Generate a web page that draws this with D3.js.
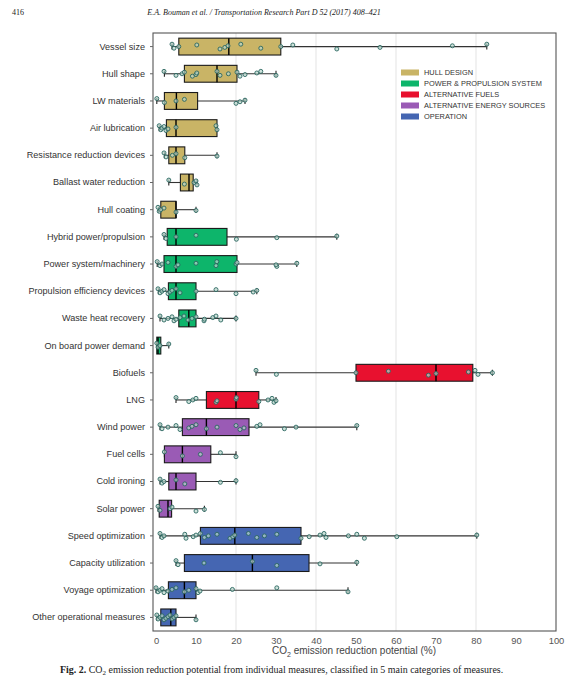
<!DOCTYPE html>
<html>
<head>
<meta charset="utf-8">
<script src="https://cdn.jsdelivr.net/npm/d3@7"></script>
<style>
  body { margin: 0; background: #fff; }
  svg text { font-family: "Liberation Sans", Arial, sans-serif; }
  .serif { font-family: "Liberation Serif", "Times New Roman", serif !important; }
</style>
</head>
<body>
<svg id="chart1"></svg>
<script>
let w = 585;
let h = 684;

// data
let measures = ["Vessel size", "Hull shape", "LW materials", "Air lubrication",
  "Resistance reduction devices", "Ballast water reduction", "Hull coating",
  "Hybrid power/propulsion", "Power system/machinery", "Propulsion efficiency devices",
  "Waste heat recovery", "On board power demand", "Biofuels", "LNG", "Wind power",
  "Fuel cells", "Cold ironing", "Solar power", "Speed optimization",
  "Capacity utilization", "Voyage optimization", "Other operational measures"];
let groupOf = ["HULL DESIGN", "HULL DESIGN", "HULL DESIGN", "HULL DESIGN", "HULL DESIGN", "HULL DESIGN", "HULL DESIGN",
  "POWER & PROPULSION SYSTEM", "POWER & PROPULSION SYSTEM", "POWER & PROPULSION SYSTEM", "POWER & PROPULSION SYSTEM", "POWER & PROPULSION SYSTEM",
  "ALTERNATIVE FUELS", "ALTERNATIVE FUELS",
  "ALTERNATIVE ENERGY SOURCES", "ALTERNATIVE ENERGY SOURCES", "ALTERNATIVE ENERGY SOURCES", "ALTERNATIVE ENERGY SOURCES",
  "OPERATION", "OPERATION", "OPERATION", "OPERATION"];
let groups = ["HULL DESIGN", "POWER & PROPULSION SYSTEM", "ALTERNATIVE FUELS", "ALTERNATIVE ENERGY SOURCES", "OPERATION"];
let groupColors = ["#c9b466", "#0db56b", "#e8112f", "#9a5bb5", "#4566b2"];

let whiskerLow  = [4, 2.1, 0.2, 0.8, 2.1, 3.2, 0.6, 2, 0.3, 0.6, 1, 0.2, 25, 5, 1, 2.1, 1, 0.5, 1, 5, 0, 0.2];
let q1          = [5.7, 7.1, 2.1, 2.6, 3.2, 6.1, 1.2, 2.8, 2, 3.1, 5.7, 0.2, 50, 12.6, 6.6, 2.1, 3.2, 0.8, 11.1, 7.1, 3.1, 1.2];
let medians     = [18.2, 15.25, 5.1, 5, 5, 8.25, 5, 5, 5, 5, 8.2, 0.5, 70, 20, 12.6, 6.6, 5, 3, 19.7, 24.1, 7.1, 3.7];
let q3          = [31.2, 20.25, 10.4, 15.25, 7.2, 9.3, 5, 17.75, 20.25, 10, 10, 1.2, 79.2, 25.7, 23.25, 13.7, 10, 3.9, 36.25, 38.25, 10, 5];
let whiskerHigh = [82.7, 30, 22.25, 15.25, 15.25, 10.25, 10, 45.2, 35.2, 25.2, 20, 3.2, 84.1, 30, 50.2, 20, 20, 12.1, 80.2, 50.2, 48, 10];

let points = [
  [4, 4.5, 5.7, 10.2, 16, 17.2, 18, 21.2, 26.2, 31.2, 34.2, 45.2, 56, 74.1, 82.7],
  [2, 5, 6.5, 7.1, 9.1, 10, 10.2, 15.25, 16, 18.1, 20.25, 21, 22.25, 25.2, 26.2, 30],
  [0.2, 2.1, 5, 7.1, 20, 21, 22.25],
  [0.8, 1.2, 1.5, 2, 2.5, 3, 5, 15, 15.25],
  [2, 2.5, 4.1, 5, 7.2, 15.25],
  [3.2, 7.1, 9.5, 10, 10.25],
  [0.5, 0.8, 1.2, 2, 5, 10],
  [2, 2.5, 5, 10, 20.1, 30.2, 45.2],
  [0.3, 1, 1.5, 3, 5, 5.5, 10, 15.2, 15, 20, 20.25, 30.2, 30, 35.2],
  [0.5, 1, 1.5, 2, 3, 3.5, 4, 5, 6, 10, 15, 20, 24.3, 25.2],
  [1, 2, 3, 4, 4.5, 5, 6, 7, 8, 9, 10, 12, 12.1, 14.2, 15, 16.2, 20],
  [0.2, 0.5, 1, 3.2],
  [25, 30.1, 50, 58.1, 68.1, 70, 78.1, 79.75, 80.5, 84.1],
  [5, 8.2, 9.2, 10, 15, 15.25, 20, 20.1, 25.7, 28, 29, 29.5, 30],
  [1, 1.5, 3, 5, 6, 8.2, 9, 10, 12.6, 15.25, 20, 21, 22, 25.2, 26, 32.1, 35, 50.2],
  [2.1, 6.6, 11.1, 16.1, 20],
  [1, 1.5, 2, 5, 7.2, 16.1, 20],
  [0.5, 1, 3.5, 4, 10, 12.1],
  [1, 1.5, 2, 7.2, 7.5, 9.3, 10, 11.1, 12.1, 13.1, 15.25, 18.5, 19.2, 19.7, 23.1, 25.2, 27.1, 30.2, 36.25, 38.3, 41, 42, 42.5, 48.1, 50.2, 52.1, 60.2, 80.2],
  [5, 5.5, 12, 24.1, 30.2, 41, 50.2],
  [0, 0.5, 1, 1.5, 2, 3, 4, 5, 7.1, 8.2, 10, 10.5, 11, 19.1, 30.2, 48],
  [0.2, 0.5, 1, 1.5, 2, 2.5, 3, 3.5, 4, 4.5, 5, 10]
];
let xTicks = [0, 10, 20, 30, 40, 50, 60, 70, 80, 90, 100];
let gridValues = [20, 40, 60, 80];

let svg = d3.select('#chart1').attr('width', w).attr('height', h);

let plotLeft = 153, plotRight = 556, plotTop = 33, plotBottom = 631;

let xScale = d3.scaleLinear().domain([-0.75, 100]).range([plotLeft, plotRight]);
let yScale = d3.scaleBand().domain(measures).range([plotTop, plotBottom]).padding(0);
let cScale = d3.scaleOrdinal().domain(groups).range(groupColors);

let boxH = yScale.bandwidth() * 0.62;
let capH = 6;

// header
svg.append('text').attr('class', 'serif').attr('x', 12).attr('y', 15)
  .attr('font-size', 8).attr('fill', '#222').text('416');
svg.append('text').attr('class', 'serif').attr('x', 264).attr('y', 15)
  .attr('text-anchor', 'middle').attr('font-size', 8).attr('font-style', 'italic').attr('fill', '#222')
  .text('E.A. Bouman et al. / Transportation Research Part D 52 (2017) 408–421');

// grid
svg.selectAll('.grid').data(gridValues).enter().append('line')
  .attr('class', 'grid')
  .attr('x1', (d) => xScale(d)).attr('x2', (d) => xScale(d))
  .attr('y1', plotTop).attr('y2', plotBottom)
  .attr('stroke', '#dcdcdc').attr('stroke-width', 0.8);

// whiskers
let rows = svg.selectAll('.row').data(measures).enter().append('g')
  .attr('class', 'row')
  .attr('transform', (d) => `translate(0, ${yScale(d) + yScale.bandwidth() / 2})`);

rows.append('line')
  .attr('x1', (d, i) => xScale(whiskerLow[i])).attr('x2', (d, i) => xScale(q1[i]))
  .attr('stroke', '#333').attr('stroke-width', 1.1);
rows.append('line')
  .attr('x1', (d, i) => xScale(q3[i])).attr('x2', (d, i) => xScale(whiskerHigh[i]))
  .attr('stroke', '#333').attr('stroke-width', 1.1);
rows.append('line')
  .attr('x1', (d, i) => xScale(whiskerLow[i])).attr('x2', (d, i) => xScale(whiskerLow[i]))
  .attr('y1', -capH / 2).attr('y2', capH / 2)
  .attr('stroke', '#222').attr('stroke-width', 1.1);
rows.append('line')
  .attr('x1', (d, i) => xScale(whiskerHigh[i])).attr('x2', (d, i) => xScale(whiskerHigh[i]))
  .attr('y1', -capH / 2).attr('y2', capH / 2)
  .attr('stroke', '#222').attr('stroke-width', 1.1);

// boxes
rows.append('rect')
  .attr('x', (d, i) => xScale(q1[i]))
  .attr('y', -boxH / 2)
  .attr('width', (d, i) => Math.max(1, xScale(q3[i]) - xScale(q1[i])))
  .attr('height', boxH)
  .attr('fill', (d, i) => cScale(groupOf[i]))
  .attr('stroke', '#1a1a1a').attr('stroke-width', 1.1);

rows.append('line')
  .attr('x1', (d, i) => xScale(medians[i])).attr('x2', (d, i) => xScale(medians[i]))
  .attr('y1', -boxH / 2).attr('y2', boxH / 2)
  .attr('stroke', '#000').attr('stroke-width', 1.4);

// individual values
rows.each(function(d, i) {
  d3.select(this).selectAll('circle').data(points[i]).enter().append('circle')
    .attr('cx', (v) => xScale(v))
    .attr('cy', (v, j) => ((j * 5) % 7 - 3) * 0.8)
    .attr('r', 2)
    .attr('fill', '#b9d6cc').attr('fill-opacity', 0.7)
    .attr('stroke', '#2a6660').attr('stroke-width', 0.9);
});

// frame
svg.append('rect')
  .attr('x', plotLeft).attr('y', plotTop)
  .attr('width', plotRight - plotLeft).attr('height', plotBottom - plotTop)
  .attr('fill', 'none').attr('stroke', '#555').attr('stroke-width', 1.1);

// axes
let xAxis = d3.axisBottom(xScale).tickValues(xTicks).tickSize(0).tickPadding(6);
let yAxis = d3.axisLeft(yScale).tickSize(3).tickPadding(5);

let xAxisGroup = svg.append('g')
  .attr('transform', `translate(0, ${plotBottom})`)
  .call(xAxis);
xAxisGroup.select('.domain').remove();
xAxisGroup.selectAll('text').attr('font-size', 9.4).attr('fill', '#555')
  .attr('font-family', '"Liberation Sans", Arial, sans-serif');

let yAxisGroup = svg.append('g')
  .attr('transform', `translate(${plotLeft}, 0)`)
  .call(yAxis);
yAxisGroup.select('.domain').remove();
yAxisGroup.selectAll('line').attr('stroke', '#666');
yAxisGroup.selectAll('text').attr('font-size', 9.1).attr('fill', '#333')
  .attr('font-family', '"Liberation Sans", Arial, sans-serif');

// axis title
let title = svg.append('text')
  .attr('x', xScale(50) - 2).attr('y', 654)
  .attr('text-anchor', 'middle').attr('font-size', 10).attr('fill', '#444');
title.append('tspan').text('CO');
title.append('tspan').attr('font-size', 7).attr('dy', 3).text('2');
title.append('tspan').attr('dy', -3).text(' emission reduction potential (%)');

// legend
let legend = svg.selectAll('.legend').data(groups).enter().append('g')
  .attr('class', 'legend')
  .attr('transform', (d, i) => `translate(401, ${72.5 + i * 11})`);
legend.append('rect').attr('x', 0).attr('y', -3).attr('width', 18).attr('height', 6)
  .attr('fill', (d) => cScale(d));
legend.append('text').attr('x', 23).attr('y', 2.6)
  .attr('font-size', 7.4).attr('fill', '#333').text((d) => d);

// caption
let cap = svg.append('text').attr('class', 'serif')
  .attr('x', 60).attr('y', 673).attr('font-size', 9.95).attr('fill', '#222');
cap.append('tspan').attr('font-weight', 'bold').text('Fig. 2.');
cap.append('tspan').text(' CO');
cap.append('tspan').attr('font-size', 7).attr('dy', 2).text('2');
cap.append('tspan').attr('dy', -2).text(' emission reduction potential from individual measures, classified in 5 main categories of measures.');
</script>
</body>
</html>
